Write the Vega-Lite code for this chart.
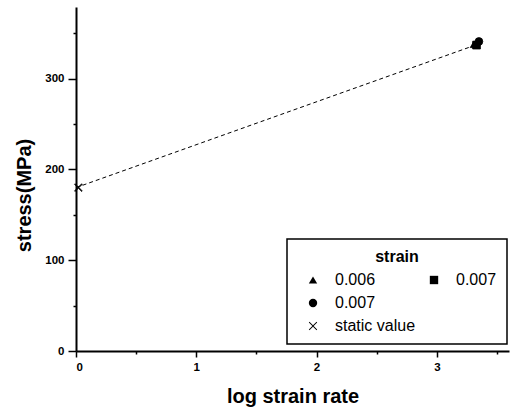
{
  "$schema": "https://vega.github.io/schema/vega-lite/v6.json",
  "width": 433,
  "height": 344,
  "autosize": {"type": "none"},
  "padding": {"left": 76, "top": 7, "right": 2, "bottom": 61},
  "background": "white",
  "config": {
    "view": {"stroke": null},
    "font": "Liberation Sans",
    "axis": {
      "domainColor": "black",
      "domainWidth": 2,
      "tickColor": "black",
      "tickWidth": 1.5,
      "labelColor": "black",
      "labelFont": "Liberation Sans",
      "labelFontSize": 11.5,
      "labelFontWeight": "bold",
      "titleColor": "black",
      "titleFont": "Liberation Sans",
      "titleFontSize": 20,
      "titleFontWeight": "bold",
      "grid": false
    },
    "legend": {
      "strokeColor": "black",
      "strokeWidth": 1.5,
      "fillColor": "white",
      "padding": 10,
      "titleFont": "Liberation Sans",
      "titleFontSize": 16,
      "titleFontWeight": "bold",
      "titleColor": "black",
      "titleAnchor": "middle",
      "labelFont": "Liberation Sans",
      "labelFontSize": 16,
      "labelColor": "black"
    }
  },
  "datasets": {
    "pts": [
      {"rate": 3.31, "stress": 338, "strain": "0.006"},
      {"rate": 3.33, "stress": 337, "strain": "0.007s"},
      {"rate": 3.35, "stress": 341, "strain": "0.007c"},
      {"rate": 0.02, "stress": 180, "strain": "static value"}
    ],
    "fit": [
      {"rate": 0.0, "stress": 180},
      {"rate": 3.32, "stress": 337}
    ]
  },
  "layer": [
    {
      "data": {"name": "fit"},
      "mark": {"type": "line", "color": "black", "strokeWidth": 1, "strokeDash": [4, 3]},
      "encoding": {
        "x": {"field": "rate", "type": "quantitative"},
        "y": {"field": "stress", "type": "quantitative"}
      }
    },
    {
      "data": {"name": "pts"},
      "mark": {"type": "point", "filled": true, "fill": "black", "stroke": "black", "strokeWidth": 0.8, "size": 60, "opacity": 1},
      "encoding": {
        "x": {
          "field": "rate", "type": "quantitative",
          "scale": {"domain": [0, 3.6], "nice": false, "zero": false},
          "axis": {
            "title": "log strain rate",
            "values": [0, 0.5, 1, 1.5, 2, 2.5, 3, 3.5],
            "format": ".0f",
            "labelExpr": "datum.value % 1 === 0 ? datum.label : ''",
            "tickSize": {"condition": {"test": "datum.value % 1 === 0", "value": 6}, "value": 3},
            "labelPadding": 4,
            "titlePadding": 14
          }
        },
        "y": {
          "field": "stress", "type": "quantitative",
          "scale": {"domain": [0, 379], "nice": false, "zero": false},
          "axis": {
            "title": "stress(MPa)",
            "titleY": 188,
            "values": [0, 50, 100, 150, 200, 250, 300, 350],
            "labelExpr": "datum.value % 100 === 0 ? datum.label : ''",
            "tickSize": {"condition": {"test": "datum.value % 100 === 0", "value": 8}, "value": 3},
            "labelPadding": 4,
            "titlePadding": 10
          }
        },
        "shape": {
          "field": "strain", "type": "nominal",
          "scale": {
            "domain": ["0.006", "0.007s", "0.007c", "pad", "static value"],
            "range": ["triangle-up", "square", "circle", "M0,0", "M-1,-0.85L-0.85,-1L0,-0.15L0.85,-1L1,-0.85L0.15,0L1,0.85L0.85,1L0,0.15L-0.85,1L-1,0.85L-0.15,0Z"]
          },
          "legend": {
            "title": "strain",
            "orient": "none",
            "direction": "horizontal",
            "legendX": 211,
            "legendY": 232,
            "columns": 2,
            "columnPadding": 2,
            "rowPadding": 7,
            "symbolOffset": 8,
            "labelOffset": 14,
            "symbolSize": 70,
            "symbolFillColor": "black",
            "symbolStrokeColor": "black",
            "symbolStrokeWidth": 0.8,
            "titlePadding": 7,
            "labelExpr": "(datum.label == '0.007s') ? '0.007\u00a0\u00a0' : (datum.label == '0.007c' ? '0.007' : (datum.label == 'pad' ? '' : datum.label))"
          }
        }
      }
    }
  ]
}
